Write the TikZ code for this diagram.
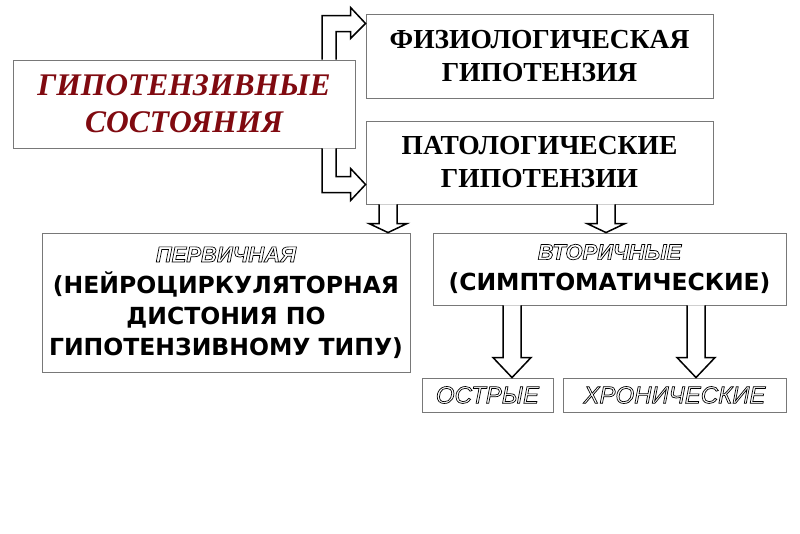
\documentclass[tikz,border=0pt]{standalone}
\usepackage{fontspec}
\setmainfont{Liberation Serif}
\newfontfamily\sansf{Liberation Sans}
\newfontfamily\dejab{DejaVu Sans}
\usetikzlibrary{calc}
\definecolor{maroon}{RGB}{128,10,16}
\definecolor{boxgray}{RGB}{120,120,120}
\newcommand{\outl}[1]{\special{pdf:literal direct 1 Tr 0.7 w}#1\special{pdf:literal direct 0 Tr}}
\newcommand{\outfont}{\sansf\itshape\fontsize{22}{31}\selectfont}
\newcommand{\outfontb}{\sansf\itshape\fontsize{24}{26}\selectfont}
% block down arrow: #1 x-coordinate name, #2 from node, #3 to node, #4 shaft half width, #5 head half width, #6 head length
\newcommand{\blkdown}[6]{%
  \draw[blk] ($(#2.south -| #1)+(-#4,0)$) -- ($(#3.north -| #1)+(-#4,-#6)$) -- ($(#3.north -| #1)+(-#5,-#6)$) -- (#3.north -| #1) -- ($(#3.north -| #1)+(#5,-#6)$) -- ($(#3.north -| #1)+(#4,-#6)$) -- ($(#2.south -| #1)+(#4,0)$);}
\begin{document}
\begin{tikzpicture}[x=1pt,y=-1pt,
  box/.style={draw=boxgray,line width=0.9pt,fill=white,inner sep=0pt,align=center},
  blk/.style={draw=black,line width=1.5pt,fill=white,line join=miter},
  redtxt/.style={text=maroon,font=\bfseries\itshape\fontsize{31.5}{37}\selectfont},
  sertxt/.style={font=\bfseries\fontsize{27.5}{33}\selectfont},
  santxt/.style={font=\dejab\bfseries\fontsize{23.5}{31}\selectfont}]
\useasboundingbox (0,0) rectangle (800,533);
\fill[white] (0,0) rectangle (800,533);
% boxes
\node[box,redtxt,minimum width=342pt,minimum height=88pt] (main) at (184,104) {ГИПОТЕНЗИВНЫЕ\\СОСТОЯНИЯ};
\node[box,sertxt,minimum width=347pt,minimum height=84pt] (phys) at (539.5,56) {ФИЗИОЛОГИЧЕСКАЯ\\ГИПОТЕНЗИЯ};
\node[box,sertxt,minimum width=347pt,minimum height=83pt] (path) at (539.5,162.5) {ПАТОЛОГИЧЕСКИЕ\\ГИПОТЕНЗИИ};
\node[box,santxt,minimum width=368pt,minimum height=139pt] (prim) at (226,302.5) {{\outfont\outl{ПЕРВИЧНАЯ}}\\(НЕЙРОЦИРКУЛЯТОРНАЯ\\ДИСТОНИЯ ПО\\ГИПОТЕНЗИВНОМУ ТИПУ)};
\node[box,santxt,minimum width=353pt,minimum height=72pt] (sec) at (609.5,269) {{\outfont\outl{ВТОРИЧНЫЕ}}\\(СИМПТОМАТИЧЕСКИЕ)};
\node[box,minimum width=131pt,minimum height=34pt,font=\outfontb] (acute) at (487.5,395) {\outl{ОСТРЫЕ}};
\node[box,minimum width=223pt,minimum height=34pt,font=\outfontb] (chron) at (674.5,395) {\outl{ХРОНИЧЕСКИЕ}};
% bent arrows
\coordinate (bx) at (329,0);
\coordinate (uy) at (0,23.5);
\coordinate (dy) at (0,184.5);
\draw[blk] ($(main.north -| bx)+(-7,0)$) -- ($(bx |- uy)+(-7,-8)$) -- ($(phys.west |- uy)+(-15,-8)$) -- ($(phys.west |- uy)+(-15,-16)$) -- (phys.west |- uy) -- ($(phys.west |- uy)+(-15,15)$) -- ($(phys.west |- uy)+(-15,8)$) -- ($(bx |- uy)+(7,8)$) -- ($(main.north -| bx)+(7,0)$);
\draw[blk] ($(main.south -| bx)+(-7,0)$) -- ($(bx |- dy)+(-7,8)$) -- ($(path.west |- dy)+(-15,8)$) -- ($(path.west |- dy)+(-15,16)$) -- (path.west |- dy) -- ($(path.west |- dy)+(-15,-16)$) -- ($(path.west |- dy)+(-15,-8)$) -- ($(bx |- dy)+(7,-8)$) -- ($(main.south -| bx)+(7,0)$);
% down arrows
\coordinate (a1) at (388,0);
\coordinate (a2) at (606,0);
\coordinate (a3) at (512,0);
\coordinate (a4) at (696,0);
\blkdown{a1}{path}{prim}{9}{19}{9}
\blkdown{a2}{path}{sec}{9}{19}{9}
\blkdown{a3}{sec}{acute}{9}{19}{20}
\blkdown{a4}{sec}{chron}{9}{19}{20}
\end{tikzpicture}
\end{document}
